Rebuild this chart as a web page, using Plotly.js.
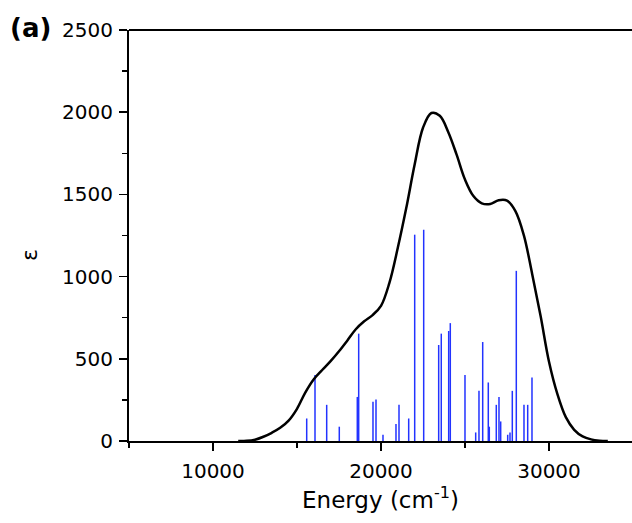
<!DOCTYPE html>
<html>
<head>
<meta charset="utf-8">
<script src="https://cdn.plot.ly/plotly-3.0.1.min.js"></script>
<style>html,body{margin:0;padding:0;background:#fff;}#chart{width:632px;height:523px;}</style>
</head>
<body>
<div id="chart"></div>
<script>
// Simulated absorption envelope (black curve), read every 500 cm-1
const curveEnergy = [11500, 12000, 12500, 13000, 13500, 14000, 14500, 15000, 15500, 16000, 16500, 17000, 17500, 18000, 18500, 19000, 19500, 20000, 20500, 21000, 21500, 22000, 22500, 23000, 23500, 24000, 24500, 25000, 25500, 26000, 26500, 27000, 27500, 28000, 28500, 29000, 29500, 30000, 30500, 31000, 31500, 32000, 32500, 33000, 33500];
const curveEps    = [0, 1, 8, 26, 50, 80, 124, 196, 296, 376, 432, 486, 546, 612, 680, 728, 766, 822, 962, 1175, 1415, 1680, 1905, 1995, 1978, 1880, 1742, 1590, 1490, 1446, 1442, 1464, 1462, 1398, 1252, 1015, 760, 482, 285, 145, 68, 28, 10, 2, 0];

// Calculated transitions (blue sticks)
const stickEnergy = [15577, 16071, 16767, 17517, 18589, 18672, 19523, 19702, 20118, 20892, 21071, 21648, 22005, 22541, 23433, 23588, 24029, 24124, 24999, 25636, 25832, 26053, 26386, 26446, 26862, 27023, 27124, 27541, 27678, 27815, 28053, 28511, 28731, 28987];
const stickEps    = [137, 402, 220, 87, 268, 653, 238, 252, 38, 103, 220, 137, 1255, 1285, 584, 653, 669, 717, 402, 52, 305, 602, 356, 87, 220, 268, 119, 38, 52, 305, 1035, 220, 220, 386];

// Axis ticks
const xTickVals = [10000, 20000, 30000];
const xTickText = ['10000', '20000', '30000'];
const yTickVals = [0, 500, 1000, 1500, 2000, 2500];
const yTickText = ['0', '500', '1000', '1500', '2000', '2500'];

const sx = [], sy = [];
stickEnergy.forEach((e, i) => { sx.push(e, e, null); sy.push(0, stickEps[i], null); });

const traces = [
  {x: sx, y: sy, type: 'scatter', mode: 'lines', line: {color: '#2233ff', width: 1.5}, hoverinfo: 'skip'},
  {x: curveEnergy, y: curveEps, type: 'scatter', mode: 'lines', line: {color: '#000', width: 2.5, shape: 'spline', smoothing: 1}, hoverinfo: 'skip'}
];

const FF = 'DejaVu Sans, Arial, sans-serif';
const layout = {
  width: 632, height: 523,
  margin: {l: 129, r: 0, t: 30, b: 82, pad: 0},
  paper_bgcolor: '#fff', plot_bgcolor: '#fff',
  showlegend: false,
  font: {family: FF, color: '#000'},
  xaxis: {
    range: [5000, 34940], showgrid: false, zeroline: false,
    showline: true, linecolor: '#000', linewidth: 2,
    ticks: 'outside', ticklen: 8, tickwidth: 1.5, tickcolor: '#000',
    tickvals: xTickVals, ticktext: xTickText,
    tickfont: {family: FF, size: 20, color: '#000'},
    ticklabelstandoff: 3,
    minor: {dtick: 5000, tick0: 5000, ticks: 'outside', ticklen: 5, tickwidth: 1.5, tickcolor: '#000'},
    title: {text: 'Energy (cm<sup>-1</sup>)', font: {family: FF, size: 23, color: '#000'}, standoff: 8}
  },
  yaxis: {
    range: [0, 2500], showgrid: false, zeroline: false,
    showline: true, linecolor: '#000', linewidth: 2,
    ticks: 'outside', ticklen: 8, tickwidth: 1.5, tickcolor: '#000',
    tickvals: yTickVals, ticktext: yTickText,
    tickfont: {family: FF, size: 20, color: '#000'},
    ticklabelstandoff: 2,
    minor: {dtick: 250, ticks: 'outside', ticklen: 5, tickwidth: 1.5, tickcolor: '#000'}
  },
  shapes: [
    {type: 'line', xref: 'paper', yref: 'paper', x0: 0, x1: 1, y0: 1, y1: 1, line: {color: '#000', width: 2}}
  ],
  annotations: [
    {text: '<b>(a)</b>', xref: 'paper', yref: 'paper', x: -0.24, y: 1.004, xanchor: 'left', yanchor: 'middle', showarrow: false,
     font: {family: FF, size: 26, color: '#000'}},
    {text: 'ε', xref: 'paper', yref: 'paper', x: -0.197, y: 0.4526, xanchor: 'center', yanchor: 'middle', textangle: -90, showarrow: false,
     font: {family: FF, size: 22, color: '#000'}}
  ]
};

Plotly.newPlot('chart', traces, layout, {staticPlot: true, displayModeBar: false});
</script>
</body>
</html>
